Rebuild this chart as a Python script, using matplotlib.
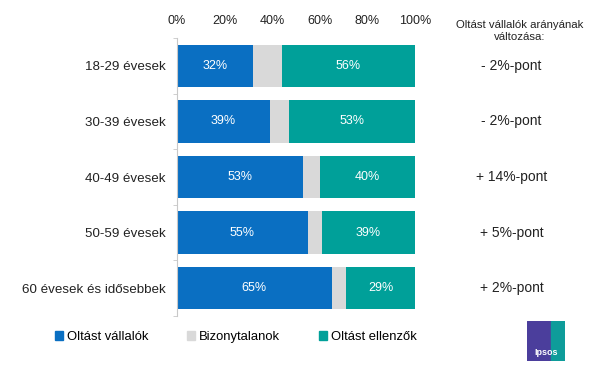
import matplotlib.pyplot as plt
from matplotlib.patches import Rectangle, Patch

plt.rcParams['font.family'] = ['Liberation Sans', 'DejaVu Sans']

categories = ['18-29 évesek', '30-39 évesek', '40-49 évesek', '50-59 évesek',
              '60 évesek és idősebbek']
vallalok = [32, 39, 53, 55, 65]
bizonytalan = [12, 8, 7, 6, 6]
ellenzok = [56, 53, 40, 39, 29]
valtozas = ['- 2%-pont', '- 2%-pont', '+ 14%-pont', '+ 5%-pont', '+ 2%-pont']
series_names = ['Oltást vállalók', 'Bizonytalanok', 'Oltást ellenzők']

c_blue = '#0A6FC2'
c_gray = '#D9D9D9'
c_teal = '#00A099'

fig = plt.figure(figsize=(5.91, 3.70), dpi=100)
ax = fig.add_axes([177/591, 1-316/370, 238/591, 278/370])

y = range(len(categories))
h = 0.76
ax.barh(y, vallalok, height=h, color=c_blue)
ax.barh(y, bizonytalan, left=vallalok, height=h, color=c_gray)
left3 = [a + b for a, b in zip(vallalok, bizonytalan)]
ax.barh(y, ellenzok, left=left3, height=h, color=c_teal)

for i in y:
    ax.text(vallalok[i] / 2, i, f'{vallalok[i]}%', ha='center', va='center',
            color='white', fontsize=9)
    ax.text(left3[i] + ellenzok[i] / 2, i, f'{ellenzok[i]}%', ha='center',
            va='center', color='white', fontsize=9)
    ax.text(1.405, i, valtozas[i], transform=ax.get_yaxis_transform(),
            ha='center', va='center', fontsize=10, color='#222222')

ax.text(1.44, 0.985, 'Oltást vállalók arányának\nváltozása:',
        transform=ax.transAxes, ha='center', va='bottom', fontsize=8.2,
        color='#222222', linespacing=1.3)

ax.set_xlim(0, 100)
ax.set_ylim(len(categories) - 0.5, -0.5)
ax.set_xticks(range(0, 101, 20))
ax.set_xticklabels([f'{v}%' for v in range(0, 101, 20)])
ax.xaxis.tick_top()
ax.tick_params(axis='x', length=0, labelsize=9, pad=8, colors='#222222')
ax.set_yticks(list(y))
ax.set_yticklabels(categories)
ax.tick_params(axis='y', length=0, labelsize=9.6, pad=8, colors='#222222')
ax.set_yticks([i - 0.5 for i in range(len(categories) + 1)], minor=True)
ax.tick_params(axis='y', which='minor', length=3, color='#C8C8C8')
for s in ['top', 'right', 'bottom']:
    ax.spines[s].set_visible(False)
ax.spines['left'].set_color('#C8C8C8')

handles = [Patch(color=c) for c in (c_blue, c_gray, c_teal)]
fig.legend(handles, series_names, loc='center', ncol=3,
           bbox_to_anchor=(236/591, 1-337/370), frameon=False,
           fontsize=9.4, handlelength=0.6, handleheight=0.6,
           handletextpad=0.3, columnspacing=3.0)

# Ipsos logo
lax = fig.add_axes([527/591, 1-361/370, 38/591, 40/370])
lax.set_xlim(0, 1)
lax.set_ylim(0, 1)
lax.axis('off')
lax.add_patch(Rectangle((0, 0), 1, 1, color='#4B3E9C'))
lax.add_patch(Rectangle((0.62, 0), 0.38, 1, color='#0E9C9A'))
lax.text(0.5, 0.22, 'Ipsos', color='white', fontsize=6.5, fontweight='bold',
         ha='center', va='center')

fig.savefig('out.png', dpi=100)
